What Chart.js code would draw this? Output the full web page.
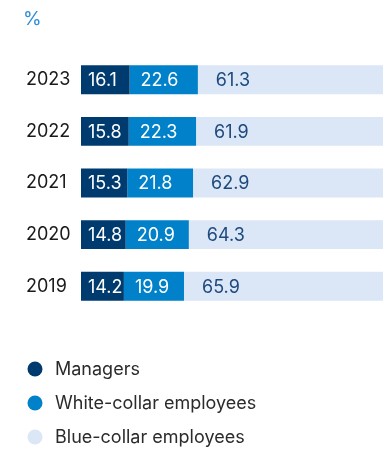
<!DOCTYPE html>
<html>
<head>
<meta charset="utf-8">
<script src="https://cdn.jsdelivr.net/npm/chart.js@4/dist/chart.umd.min.js"></script>
<style>
  html, body { margin: 0; padding: 0; background: #ffffff; }
  #wrap { width: 383px; height: 449px; position: relative; }
</style>
</head>
<body>
<div id="wrap"><canvas id="chart"></canvas></div>
<script>
// Workforce structure by employee category, %
const years = ['2023', '2022', '2021', '2020', '2019'];
const seriesNames = ['Managers', 'White-collar employees', 'Blue-collar employees'];
const managers = [16.1, 15.8, 15.3, 14.8, 14.2];
const whiteCollar = [22.6, 22.3, 21.8, 20.9, 19.9];
const blueCollar = [61.3, 61.9, 62.9, 64.3, 65.9];
const unitLabel = '%';

const fills = ['#003b6f', '#0081c9', '#dbe6f7'];
const valueInk = ['#ffffff', '#ffffff', '#1d4a7c'];
const labelPad = [7, 11, 18];
const FONT = 'Inter, "Noto Sans", sans-serif';

// Unit caption in the top-left corner
const unitCaption = {
  id: 'unitCaption',
  afterDraw(chart) {
    const ctx = chart.ctx;
    ctx.save();
    ctx.font = '19px ' + FONT;
    ctx.fillStyle = '#2b8fd8';
    ctx.textAlign = 'left';
    ctx.textBaseline = 'alphabetic';
    ctx.fillText(unitLabel, 23, 25);
    ctx.restore();
  }
};

// In-bar value labels, anchored to the start of each segment
const segmentLabels = {
  id: 'segmentLabels',
  afterDatasetsDraw(chart) {
    const ctx = chart.ctx;
    ctx.save();
    ctx.font = '18px ' + FONT;
    ctx.textBaseline = 'middle';
    ctx.textAlign = 'left';
    chart.data.datasets.forEach((ds, di) => {
      const meta = chart.getDatasetMeta(di);
      meta.data.forEach((bar, i) => {
        const left = Math.min(bar.x, bar.base);
        ctx.fillStyle = valueInk[di];
        ctx.fillText(ds.data[i].toFixed(1), left + labelPad[di], bar.y + 1);
      });
    });
    ctx.restore();
  }
};

// Vertical legend with round markers under the bars
const stackedLegend = {
  id: 'stackedLegend',
  afterDraw(chart) {
    const ctx = chart.ctx;
    const area = chart.chartArea;
    ctx.save();
    ctx.font = '18px ' + FONT;
    ctx.textBaseline = 'middle';
    ctx.textAlign = 'left';
    chart.data.datasets.forEach((ds, di) => {
      const cy = area.bottom + 57 + di * 34;
      ctx.beginPath();
      ctx.arc(35, cy, 7.5, 0, Math.PI * 2);
      ctx.fillStyle = ds.backgroundColor;
      ctx.fill();
      ctx.fillStyle = '#2b2b2b';
      ctx.fillText(ds.label, 55, cy + 1);
    });
    ctx.restore();
  }
};

const datasets = [managers, whiteCollar, blueCollar].map((values, k) => ({
  label: seriesNames[k],
  data: values,
  backgroundColor: fills[k],
  borderWidth: 0,
  barPercentage: 0.56,
  categoryPercentage: 1.0
}));

new Chart(document.getElementById('chart'), {
  type: 'bar',
  data: { labels: years, datasets },
  plugins: [unitCaption, segmentLabels, stackedLegend],
  options: {
    indexAxis: 'y',
    responsive: true,
    maintainAspectRatio: false,
    animation: false,
    layout: { padding: { left: 26, right: 0, top: 54, bottom: 137 } },
    scales: {
      x: {
        stacked: true,
        min: 0,
        max: 100,
        display: false
      },
      y: {
        stacked: true,
        grid: { display: false, drawTicks: false },
        border: { display: false },
        ticks: {
          color: '#1a1a1a',
          padding: 13,
          crossAlign: 'far',
          font: { family: FONT, size: 18 }
        },
        afterFit(scale) { scale.width = 55; }
      }
    },
    plugins: {
      legend: { display: false },
      tooltip: { enabled: false },
      title: { display: false }
    }
  }
});
</script>
</body>
</html>
